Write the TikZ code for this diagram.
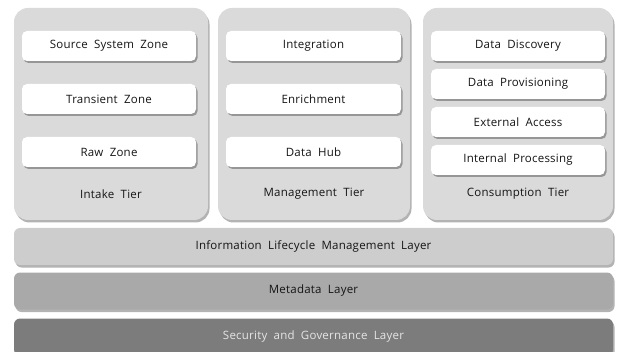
\documentclass[tikz,border=0pt]{standalone}
\usepackage{fontspec}
\setmainfont{Open Sans}[LetterSpace=2]
\usetikzlibrary{shadows}
\definecolor{tierfill}{HTML}{DADADA}
\definecolor{ilmfill}{HTML}{CDCDCD}
\definecolor{metafill}{HTML}{A9A9A9}
\definecolor{secfill}{HTML}{7C7C7C}
\definecolor{txt}{HTML}{151515}
\newcommand{\lblfont}{\fontsize{11.5}{13}\selectfont\spaceskip=0.55em plus 0.1em}
\tikzset{
  tierbox/.style={fill=tierfill, rounded corners=14pt, draw=none,
    drop shadow={shadow xshift=1.5pt, shadow yshift=-2.5pt, fill=black!50, opacity=0.6}},
  zonebox/.style={fill=white, rounded corners=5pt, draw=none, minimum width=174pt, minimum height=30pt,
    inner sep=0pt, font=\lblfont, text=txt,
    drop shadow={shadow xshift=1.5pt, shadow yshift=-2pt, fill=black!55, opacity=0.65}},
  layerbox/.style={rounded corners=6pt, draw=none, minimum width=599pt, minimum height=37pt,
    inner sep=0pt, font=\lblfont,
    drop shadow={shadow xshift=1.5pt, shadow yshift=-2.5pt, fill=black!50, opacity=0.6}},
  tierlabel/.style={font=\lblfont, text=txt, inner sep=0pt}
}
\begin{document}
\begin{tikzpicture}[x=1pt,y=-1pt]
\useasboundingbox (0,0) rectangle (617,352);
\begin{scope}
\clip (0,0) rectangle (617,352);
% three tiers
\fill[tierbox] (14,8) rectangle (208,220);
\fill[tierbox] (218,8) rectangle (410,220);
\fill[tierbox] (423,8) rectangle (613,220);
\node[tierlabel] (intake) at (111,194) {Intake Tier};
\node[tierlabel] (mgmt) at (314,194) {Management Tier};
\node[tierlabel] (cons) at (518,194) {Consumption Tier};
% intake zones
\node[zonebox] (src) at (109,46) {Source System Zone};
\node[zonebox] (trans) at (109,99) {Transient Zone};
\node[zonebox] (raw) at (109,152) {Raw Zone};
% management zones
\node[zonebox, minimum width=175pt] (integ) at (313.5,46) {Integration};
\node[zonebox, minimum width=175pt] (enrich) at (313.5,99) {Enrichment};
\node[zonebox, minimum width=175pt] (hub) at (313.5,152) {Data Hub};
% consumption zones
\node[zonebox] (disc) at (518,46) {Data Discovery};
\node[zonebox] (prov) at (518,84) {Data Provisioning};
\node[zonebox] (ext) at (518,122) {External Access};
\node[zonebox] (int) at (518,160) {Internal Processing};
% horizontal layers
\node[layerbox, fill=ilmfill, text=txt] (ilm) at (313.5,246.5) {Information Lifecycle Management Layer};
\node[layerbox, fill=metafill, text=txt] (meta) at (313.5,291) {Metadata Layer};
\node[layerbox, fill=secfill, text=white!90!black] (sec) at (313.5,337) {Security and Governance Layer};
\end{scope}
\end{tikzpicture}
\end{document}
